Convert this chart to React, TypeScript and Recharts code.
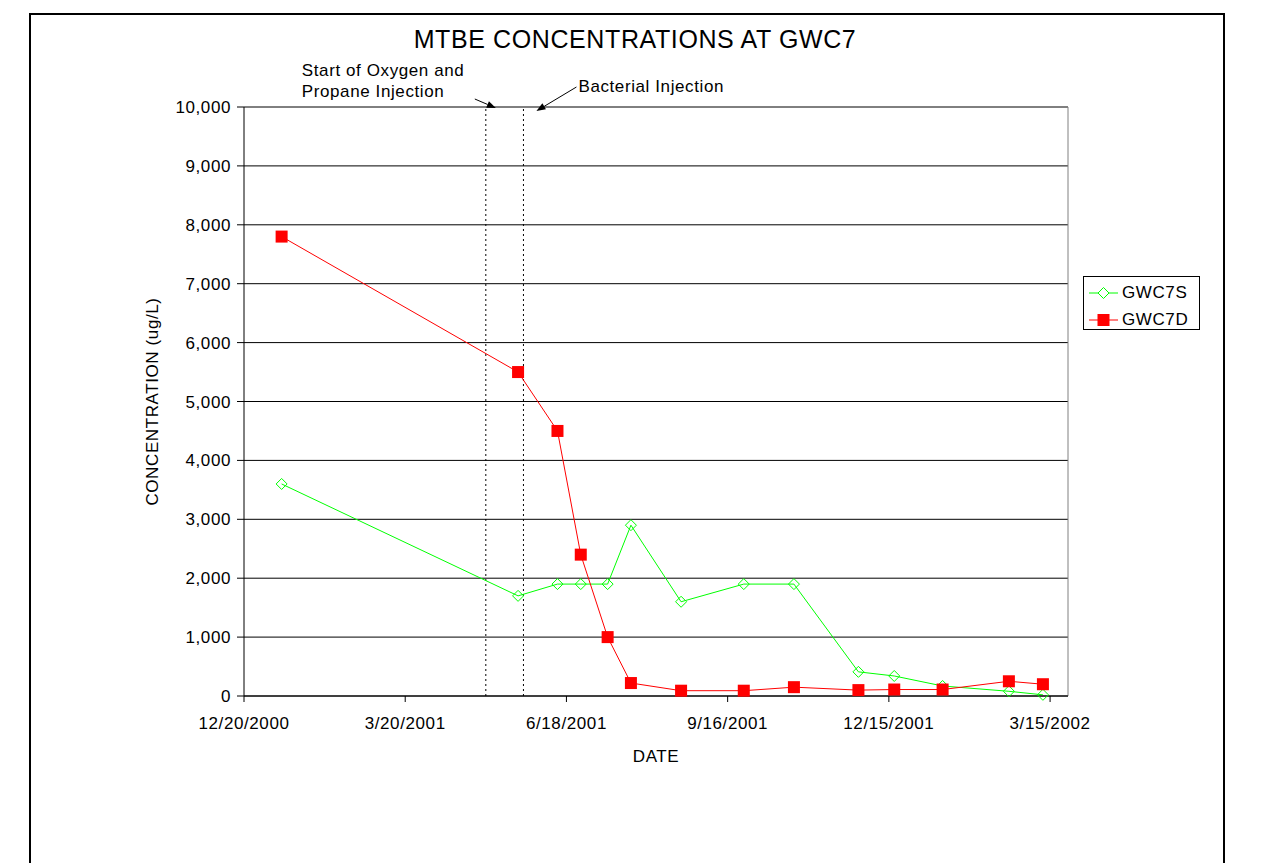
import React from "react";
import {
  LineChart,
  Line,
  XAxis,
  YAxis,
  CartesianGrid,
  ReferenceLine,
  Legend,
  Customized,
} from "recharts";

// Sampling dates and MTBE results (ug/L) for the shallow and deep wells
const sampleDates = [
  "1/10/2001",
  "5/22/2001",
  "6/13/2001",
  "6/26/2001",
  "7/11/2001",
  "7/24/2001",
  "8/21/2001",
  "9/25/2001",
  "10/23/2001",
  "11/28/2001",
  "12/18/2001",
  "1/14/2002",
  "2/20/2002",
  "3/11/2002",
];
const gwc7s = [3600, 1700, 1900, 1900, 1900, 2900, 1600, 1900, 1900, 410, 340, 170, 80, 20];
const gwc7d = [7800, 5500, 4500, 2400, 1000, 220, 90, 90, 150, 100, 110, 110, 250, 200];

const dateTicks = ["12/20/2000", "3/20/2001", "6/18/2001", "9/16/2001", "12/15/2001", "3/15/2002"];
const axisEnd = "3/25/2002";
const concentrationTicks = [0, 1000, 2000, 3000, 4000, 5000, 6000, 7000, 8000, 9000, 10000];

const oxygenStart = "5/4/2001";
const bacterialInjection = "5/25/2001";

const FONT = '"Liberation Sans", Arial, Helvetica, sans-serif';
const GREEN = "#00FF00";
const RED = "#FF0000";

const toTime = (s: string) => {
  const [m, d, y] = s.split("/").map(Number);
  return Date.UTC(y, m - 1, d);
};

const fmtDate = (t: number) => {
  const d = new Date(t);
  return `${d.getUTCMonth() + 1}/${d.getUTCDate()}/${d.getUTCFullYear()}`;
};

const rows = sampleDates.map((s, i) => ({ t: toTime(s), s: gwc7s[i], d: gwc7d[i] }));
const xTicks = dateTicks.map(toTime);

const Diamond = (props: any) => {
  const { cx, cy } = props;
  if (cx == null || cy == null) return null;
  const r = 5.5;
  return (
    <polygon
      points={`${cx},${cy - r} ${cx + r},${cy} ${cx},${cy + r} ${cx - r},${cy}`}
      fill="none"
      stroke={GREEN}
      strokeWidth={1}
    />
  );
};

const Square = (props: any) => {
  const { cx, cy } = props;
  if (cx == null || cy == null) return null;
  return <rect x={cx - 6} y={cy - 6} width={12} height={12} fill={RED} />;
};

const arrow = (x1: number, y1: number, x2: number, y2: number) => {
  const a = Math.atan2(y2 - y1, x2 - x1);
  const len = 9;
  const w = 3.5;
  const bx = x2 - len * Math.cos(a);
  const by = y2 - len * Math.sin(a);
  const px = -Math.sin(a) * w;
  const py = Math.cos(a) * w;
  return (
    <g>
      <line x1={x1} y1={y1} x2={bx} y2={by} stroke="#000" strokeWidth={1} />
      <polygon points={`${x2},${y2} ${bx + px},${by + py} ${bx - px},${by - py}`} fill="#000" />
    </g>
  );
};

const textStyle = { fontFamily: FONT, fontSize: 17, letterSpacing: 0.6, fill: "#000" };

// annotation placed relative to the top of the oxygen/propane line
const OxygenLabel = (props: any) => {
  const { x, y } = props.viewBox || {};
  if (x == null) return null;
  return (
    <g>
      <text x={x - 184} y={y - 31} style={textStyle}>
        Start of Oxygen and
      </text>
      <text x={x - 184} y={y - 10} style={textStyle}>
        Propane Injection
      </text>
      {arrow(x - 11, y - 8, x + 10, y + 1)}
    </g>
  );
};

const BacterialLabel = (props: any) => {
  const { x, y } = props.viewBox || {};
  if (x == null) return null;
  return (
    <g>
      <text x={x + 55} y={y - 15} style={textStyle}>
        Bacterial Injection
      </text>
      {arrow(x + 53, y - 20, x + 13, y + 4)}
    </g>
  );
};

const Title = () => (
  <text
    x={635}
    y={48}
    textAnchor="middle"
    style={{ fontFamily: FONT, fontSize: 25, letterSpacing: 0.6, fill: "#000" }}
  >
    MTBE CONCENTRATIONS AT GWC7
  </text>
);

const LegendBox = () => {
  const items = [
    { name: "GWC7S", color: GREEN, square: false },
    { name: "GWC7D", color: RED, square: true },
  ];
  return (
    <div
      style={{
        position: "relative",
        width: 115,
        height: 52,
        border: "1px solid #000",
        background: "#fff",
        fontFamily: FONT,
      }}
    >
      {items.map((it, i) => (
        <div key={it.name} style={{ position: "absolute", left: 0, top: 4 + i * 27, height: 24, width: 115 }}>
          <svg width={36} height={24} style={{ position: "absolute", left: 0, top: 0 }}>
            <line x1={5} y1={12} x2={34} y2={12} stroke={it.color} strokeWidth={1} />
            {it.square ? (
              <rect x={13.5} y={6} width={12} height={12} fill={it.color} />
            ) : (
              <polygon points="19.5,6.5 25,12 19.5,17.5 14,12" fill="#fff" stroke={it.color} />
            )}
          </svg>
          <span
            style={{
              position: "absolute",
              left: 38,
              top: 2,
              fontSize: 17,
              letterSpacing: 0.6,
              lineHeight: "20px",
              color: "#000",
            }}
          >
            {it.name}
          </span>
        </div>
      ))}
    </div>
  );
};

export default function App() {
  return (
    <div style={{ position: "absolute", left: 0, top: 0, width: 1269, height: 863, background: "#fff" }}>
      <div
        style={{
          position: "absolute",
          left: 29,
          top: 13,
          width: 1196,
          height: 900,
          border: "2px solid #000",
          boxSizing: "border-box",
        }}
      />
      <LineChart
        width={1269}
        height={863}
        data={rows}
        margin={{ top: 107, right: 201, bottom: 137, left: 164 }}
        style={{ fontFamily: FONT }}
      >
        <Customized component={Title} />
        <CartesianGrid vertical={false} stroke="#000" strokeWidth={1} />
        <XAxis
          dataKey="t"
          type="number"
          domain={[xTicks[0], toTime(axisEnd)]}
          ticks={xTicks}
          tickFormatter={fmtDate}
          height={30}
          stroke="#000"
          tickSize={6}
          tickMargin={15}
          allowDataOverflow
          tick={{ fill: "#000", fontSize: 17, letterSpacing: 0.6, fontFamily: FONT }}
          label={{
            content: (p: any) => {
              const vb = p.viewBox;
              return (
                <text x={vb.x + vb.width / 2} y={762} textAnchor="middle" style={textStyle}>
                  DATE
                </text>
              );
            },
          }}
        />
        <YAxis
          type="number"
          domain={[0, 10000]}
          ticks={concentrationTicks}
          tickFormatter={(v: number) => v.toLocaleString("en-US")}
          width={80}
          stroke="#000"
          tickSize={7}
          tickMargin={6}
          interval={0}
          tick={{ fill: "#000", fontSize: 17, letterSpacing: 0.6, fontFamily: FONT }}
          label={{
            content: (p: any) => {
              const vb = p.viewBox;
              const cy = vb.y + vb.height / 2;
              return (
                <text
                  x={158}
                  y={cy}
                  textAnchor="middle"
                  transform={`rotate(-90 158 ${cy})`}
                  style={textStyle}
                >
                  CONCENTRATION (ug/L)
                </text>
              );
            },
          }}
        />
        <ReferenceLine x={toTime(axisEnd)} stroke="#808080" strokeWidth={1} />
        <ReferenceLine
          x={toTime(oxygenStart)}
          stroke="#000"
          strokeDasharray="2 3"
          label={{ content: OxygenLabel }}
        />
        <ReferenceLine
          x={toTime(bacterialInjection)}
          stroke="#000"
          strokeDasharray="2 3"
          label={{ content: BacterialLabel }}
        />
        <Legend
          layout="vertical"
          align="center"
          verticalAlign="middle"
          content={() => <LegendBox />}
          wrapperStyle={{ left: 1083, top: 276, width: 117, height: 54 }}
        />
        <Line
          type="linear"
          dataKey="s"
          name="GWC7S"
          stroke={GREEN}
          strokeWidth={1}
          dot={<Diamond />}
          activeDot={false}
          isAnimationActive={false}
        />
        <Line
          type="linear"
          dataKey="d"
          name="GWC7D"
          stroke={RED}
          strokeWidth={1}
          dot={<Square />}
          activeDot={false}
          isAnimationActive={false}
        />
      </LineChart>
    </div>
  );
}
